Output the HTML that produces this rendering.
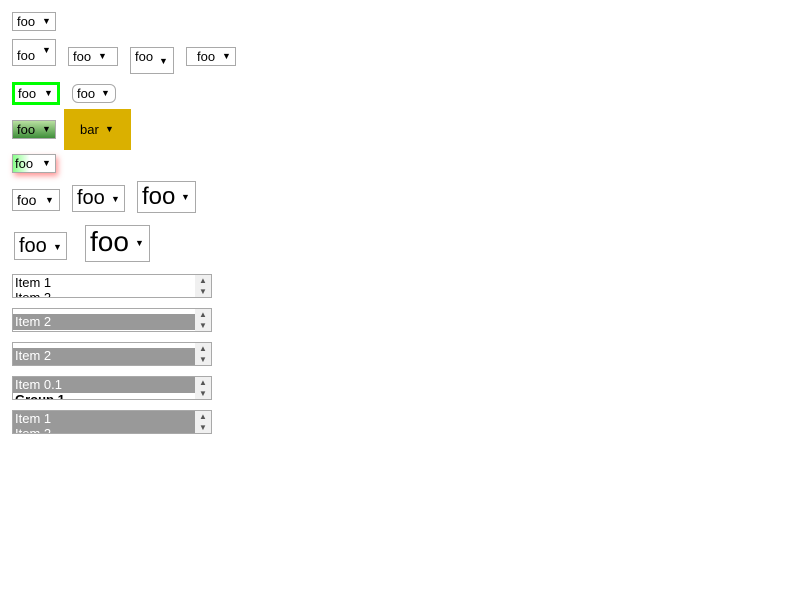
<!DOCTYPE html>
<html><head><meta charset="utf-8"><style>
body{margin:0;width:800px;height:600px;background:#fff;font-family:"Liberation Sans",sans-serif;position:relative;overflow:hidden}
.s{position:absolute;box-sizing:border-box;border:1px solid #a9a9a9;background:#fff;color:#000;font-size:13px;white-space:nowrap;overflow:hidden}
.s .t{position:absolute;left:4px}
.s .a{position:absolute;font-size:9px}
.lb{position:absolute;left:12px;width:200px;height:24px;box-sizing:border-box;border:1px solid #a9a9a9;background:#fff;overflow:hidden;font-size:13px}
.lb .sb{position:absolute;right:0;top:0;width:16px;height:100%;background:#f0f0f0;font-size:8px;color:#555;text-align:center;line-height:11px}
.lb .o{position:absolute;left:0;right:16px;padding-left:2px;height:16px;line-height:16px}
.sel{background:#999;color:#fff}
</style></head><body>
<div class="s" style="left:12px;top:12px;width:44px;height:19px"><span class="t" style="top:1px">foo</span><span class="a" style="left:29px;top:3px">▼</span></div>

<div class="s" style="left:12px;top:39px;width:44px;height:27px"><span class="t" style="top:8px">foo</span><span class="a" style="left:29px;top:5px">▼</span></div>
<div class="s" style="left:68px;top:47px;width:50px;height:19px"><span class="t" style="top:1px">foo</span><span class="a" style="left:29px;top:3px">▼</span></div>
<div class="s" style="left:130px;top:47px;width:44px;height:27px"><span class="t" style="top:1px">foo</span><span class="a" style="left:28px;top:8px">▼</span></div>
<div class="s" style="left:186px;top:47px;width:50px;height:19px"><span class="t" style="left:10px;top:1px">foo</span><span class="a" style="left:35px;top:3px">▼</span></div>

<div class="s" style="left:12px;top:82px;width:48px;height:23px;border:3px solid #0f0"><span class="t" style="left:3px;top:1px">foo</span><span class="a" style="left:29px;top:3px">▼</span></div>
<div class="s" style="left:72px;top:84px;width:44px;height:19px;border-radius:6px"><span class="t" style="top:1px">foo</span><span class="a" style="left:28px;top:3px">▼</span></div>

<div class="s" style="left:12px;top:120px;width:44px;height:19px;background:linear-gradient(#b8e0a0,#3f8f3a)"><span class="t" style="top:1px">foo</span><span class="a" style="left:29px;top:3px">▼</span></div>
<div class="s" style="left:64px;top:109px;width:67px;height:41px;background:#dab000;border:none"><span class="t" style="left:16px;top:13px">bar</span><span class="a" style="left:41px;top:15px">▼</span></div>

<div class="s" style="left:12px;top:154px;width:44px;height:19px;background:linear-gradient(90deg,#8f8 0%,#fff 40%);box-shadow:2px 3px 6px rgba(255,80,80,.6);overflow:visible"><span class="t" style="left:2px;top:1px">foo</span><span class="a" style="left:29px;top:3px">▼</span></div>

<div class="s" style="left:12px;top:189px;width:48px;height:22px;font-size:14px"><span class="t" style="top:2px">foo</span><span class="a" style="left:32px;top:5px">▼</span></div>
<div class="s" style="left:72px;top:185px;width:53px;height:27px;font-size:20px"><span class="t" style="top:1px">foo</span><span class="a" style="left:38px;top:8px">▼</span></div>
<div class="s" style="left:137px;top:181px;width:59px;height:32px;font-size:24px"><span class="t" style="top:1px">foo</span><span class="a" style="left:43px;top:10px">▼</span></div>

<div class="s" style="left:14px;top:232px;width:53px;height:28px;font-size:20px"><span class="t" style="top:2px">foo</span><span class="a" style="left:38px;top:9px">▼</span></div>
<div class="s" style="left:85px;top:225px;width:65px;height:37px;font-size:28px"><span class="t" style="top:0px">foo</span><span class="a" style="left:49px;top:12px">▼</span></div>

<div class="lb" style="top:274px"><div class="o" style="top:0">Item 1</div><div class="o" style="top:15px">Item 2</div><div class="sb">▲<br>▼</div></div>
<div class="lb" style="top:308px"><div class="o sel" style="top:5px">Item 2</div><div class="sb">▲<br>▼</div></div>
<div class="lb" style="top:342px"><div class="o sel" style="top:5px;height:17px">Item 2</div><div class="sb">▲<br>▼</div></div>
<div class="lb" style="top:376px"><div class="o sel" style="top:0">Item 0.1</div><div class="o" style="top:15px;font-weight:bold">Group 1</div><div class="sb">▲<br>▼</div></div>
<div class="lb" style="top:410px;background:#999"><div class="o sel" style="top:0">Item 1</div><div class="o sel" style="top:15px">Item 2</div><div class="sb">▲<br>▼</div></div>
</body></html>
